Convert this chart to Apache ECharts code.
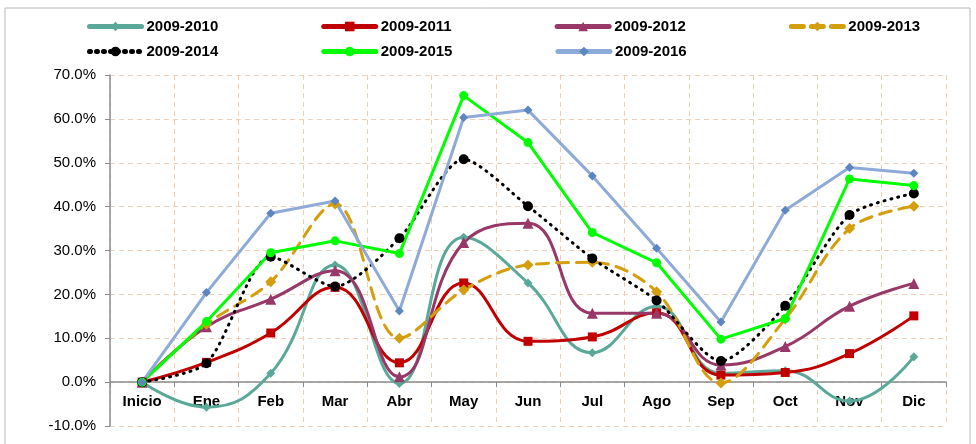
<!DOCTYPE html>
<html>
<head>
<meta charset="utf-8">
<script src="https://cdn.jsdelivr.net/npm/echarts@6/dist/echarts.min.js"></script>
<style>
  html, body { margin: 0; padding: 0; background: #fff; }
  #chart { width: 976px; height: 444px; }
</style>
</head>
<body>
<div id="chart"></div>
<script>
// month labels
var months = ['Inicio', 'Ene', 'Feb', 'Mar', 'Abr', 'May', 'Jun', 'Jul', 'Ago', 'Sep', 'Oct', 'Nov', 'Dic'];

// cumulative change, in percent
var s2010 = [0, -5.7, 2.0, 26.7, -0.3, 33.0, 22.6, 6.7, 17.3, 2.0, 2.6, -4.3, 5.8];
var s2011 = [0, 4.5, 11.2, 21.6, 4.4, 22.6, 9.3, 10.3, 15.8, 1.6, 2.2, 6.5, 15.1];
var s2012 = [0, 12.6, 18.9, 25.4, 1.2, 31.8, 36.2, 15.7, 15.7, 3.9, 8.1, 17.3, 22.5];
var s2013 = [0, 13.2, 22.9, 40.6, 10.0, 21.0, 26.7, 27.3, 20.6, -0.2, 14.4, 35.0, 40.1];
var s2014 = [0, 4.3, 28.6, 21.8, 32.8, 50.8, 40.1, 28.2, 18.6, 4.8, 17.4, 38.1, 43.0];
var s2015 = [0, 13.8, 29.5, 32.2, 29.3, 65.3, 54.6, 34.1, 27.2, 9.8, 14.5, 46.3, 44.8];
var s2016 = [0, 20.4, 38.5, 41.3, 16.2, 60.3, 62.0, 47.0, 30.5, 13.7, 39.2, 48.9, 47.6];

var chart = echarts.init(document.getElementById('chart'));

var legendText = { fontFamily: 'Liberation Sans', fontWeight: 'bold', fontSize: 15, color: '#000' };

function mkLine(name, data, color, markColor, symbol, size, type, smooth) {
    return {
        name: name,
        type: 'line',
        data: data,
        smooth: smooth,
        symbol: symbol,
        symbolSize: size,
        itemStyle: { color: markColor, borderWidth: 0 },
        lineStyle: { color: color, width: 3, type: type, cap: 'round' }
    };
}

var option = {
    animation: false,
    backgroundColor: '#fff',
    graphic: [{
        type: 'rect',
        shape: { x: 5, y: 8, width: 965, height: 450 },
        style: { fill: 'none', stroke: '#b8b8b8', lineWidth: 1 },
        silent: true
    }],
    legend: [{
        top: 14,
        left: 82,
        itemWidth: 52,
        itemHeight: 12,
        itemGap: 103,
        lineStyle: { width: 5 },
        textStyle: legendText,
        data: ['2009-2010', '2009-2011', '2009-2012', '2009-2013']
    }, {
        top: 39,
        left: 82,
        itemWidth: 52,
        itemHeight: 12,
        itemGap: 103,
        lineStyle: { width: 5 },
        textStyle: legendText,
        data: ['2009-2014', '2009-2015', '2009-2016']
    }],
    grid: { left: 110, right: 30, top: 75, bottom: 18, containLabel: false, outerBoundsMode: 'none' },
    xAxis: {
        type: 'category',
        data: months,
        boundaryGap: true,
        axisLine: { onZero: true, lineStyle: { color: '#8c8c8c', width: 1.5 } },
        axisTick: { show: true, length: 5, lineStyle: { color: '#8c8c8c' } },
        // labels sit just under the zero line, as in the original
        axisLabel: { fontFamily: 'Liberation Sans', fontWeight: 'bold', fontSize: 15, color: '#000', margin: -32 },
        splitLine: { show: true, lineStyle: { color: '#efcfb5', type: [5, 4], width: 1 } }
    },
    yAxis: {
        type: 'value',
        min: -10,
        max: 70,
        interval: 10,
        axisLine: { show: true, lineStyle: { color: '#8c8c8c', width: 1.5 } },
        axisTick: { show: true, length: 5, lineStyle: { color: '#8c8c8c' } },
        axisLabel: {
            fontFamily: 'Liberation Sans', fontSize: 15, color: '#000', margin: 14,
            formatter: function (v) { return v.toFixed(1) + '%'; }
        },
        splitLine: { show: true, lineStyle: { color: '#efcfb5', type: [5, 4], width: 1 } }
    },
    series: [
        mkLine('2009-2010', s2010, '#5aa998', '#5aa998', 'diamond', 9, 'solid', 0.45),
        mkLine('2009-2011', s2011, '#c00000', '#c00000', 'rect', 9, 'solid', 0.45),
        mkLine('2009-2012', s2012, '#983868', '#983868', 'triangle', 11, 'solid', 0.45),
        mkLine('2009-2013', s2013, '#d49e0c', '#d49e0c', 'diamond', 11, [12, 8], 0.35),
        mkLine('2009-2014', s2014, '#000000', '#000000', 'circle', 10, [1, 6], 0.25),
        mkLine('2009-2015', s2015, '#00ff00', '#00ff00', 'circle', 9, 'solid', false),
        mkLine('2009-2016', s2016, '#8eaad6', '#5b86c0', 'diamond', 9, 'solid', false)
    ]
};

chart.setOption(option);
</script>
</body>
</html>
